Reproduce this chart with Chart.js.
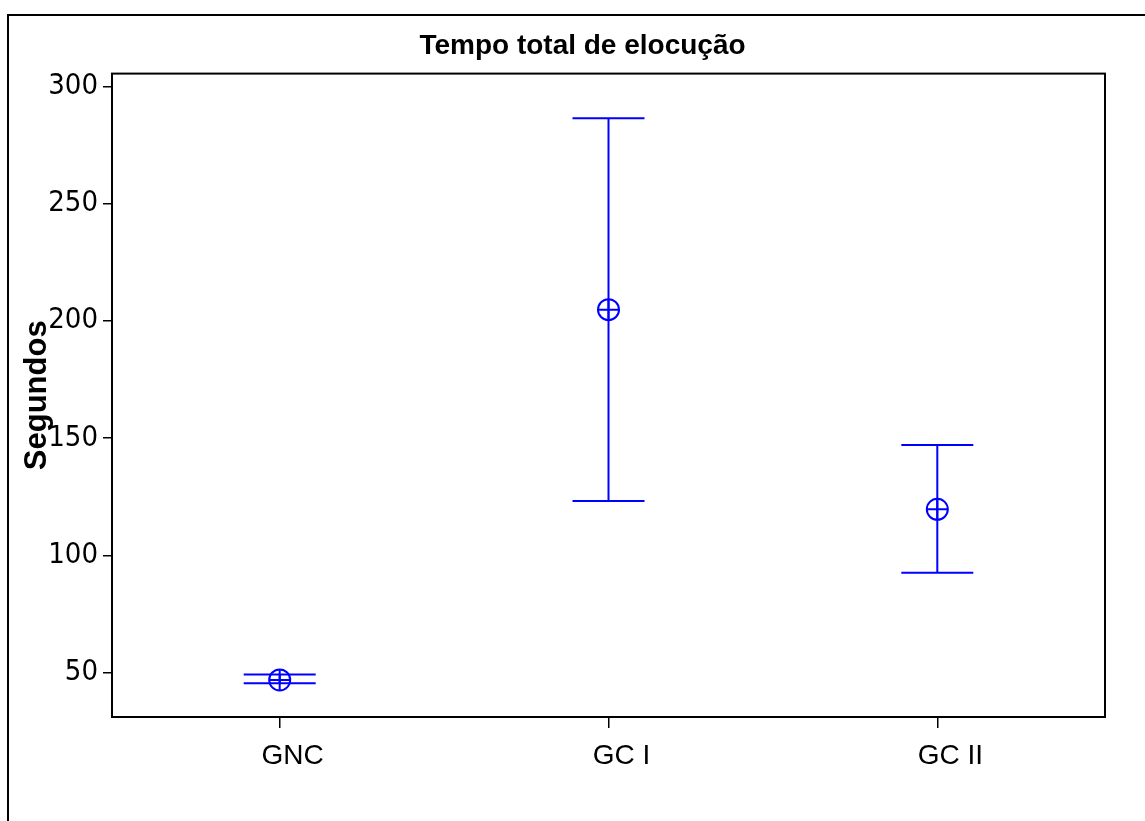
<!DOCTYPE html>
<html><head><meta charset="utf-8">
<script src="https://cdn.jsdelivr.net/npm/chart.js@4"></script>
<style>html,body{margin:0;padding:0;background:#fff}#wrap{width:1145px;height:821px}</style>
</head><body><div id="wrap"><canvas id="c" width="1145" height="821"></canvas></div>
<script>
const groups = ['GNC', 'GC I', 'GC II'];
const means = [46.8, 204.8, 119.6];
const upper = [49.1, 286.5, 147.0];
const lower = [45.4, 123.2, 92.5];
const yTicks = [50, 100, 150, 200, 250, 300];
const xPositions = [0, 1, 2];

const BLUE = '#0000FF';
const tickFont = "'Liberation Sans Narrow', 'Arial Narrow', 'DejaVu Sans Condensed', sans-serif";
const mainFont = "'Liberation Sans', Arial, sans-serif";

const framePlugin = {
  id: 'frame',
  beforeDraw(chart) {
    const ctx = chart.ctx;
    ctx.save();
    ctx.fillStyle = '#fff';
    ctx.fillRect(0, 0, chart.width, chart.height);
    ctx.strokeStyle = '#000';
    ctx.lineWidth = 2;
    ctx.strokeRect(8, 15, chart.width + 20, chart.height + 20);
    ctx.restore();
  },
  afterDraw(chart) {
    const a = chart.chartArea, ctx = chart.ctx;
    ctx.save();
    ctx.strokeStyle = '#000';
    ctx.lineWidth = 2;
    ctx.strokeRect(a.left, a.top, a.right - a.left, a.bottom - a.top);
    ctx.restore();
  }
};

const errorBarPlugin = {
  id: 'errorBars',
  beforeDatasetsDraw(chart) {
    const {ctx, scales: {x, y}} = chart;
    ctx.save();
    ctx.strokeStyle = BLUE;
    ctx.lineWidth = 2;
    xPositions.forEach((xv, i) => {
      const px = x.getPixelForValue(xv);
      const pu = y.getPixelForValue(upper[i]);
      const pl = y.getPixelForValue(lower[i]);
      const cap = 36;
      ctx.beginPath();
      ctx.moveTo(px, pu); ctx.lineTo(px, pl);
      ctx.moveTo(px - cap, pu); ctx.lineTo(px + cap, pu);
      ctx.moveTo(px - cap, pl); ctx.lineTo(px + cap, pl);
      ctx.stroke();
    });
    ctx.restore();
  }
};

const meanPts = xPositions.map((xv, i) => ({x: xv, y: means[i]}));

new Chart(document.getElementById('c'), {
  type: 'scatter',
  data: {
    datasets: [
      { data: meanPts, pointStyle: 'circle', pointRadius: 10.5, pointHoverRadius: 10.5,
        borderColor: BLUE, backgroundColor: 'rgba(0,0,0,0)', pointBorderWidth: 2, borderWidth: 2 },
      { data: meanPts, pointStyle: 'cross', pointRadius: 10.5, pointHoverRadius: 10.5,
        borderColor: BLUE, backgroundColor: BLUE, pointBorderWidth: 2, borderWidth: 2 }
    ]
  },
  options: {
    responsive: false,
    devicePixelRatio: 1,
    animation: false,
    events: [],
    layout: { padding: { left: 20, right: 0, top: 0, bottom: 0 } },
    plugins: {
      legend: { display: false },
      tooltip: { enabled: false },
      title: {
        display: true,
        text: 'Tempo total de elocução',
        color: '#000',
        font: { family: mainFont, size: 28, weight: 'bold', lineHeight: 1.2 },
        padding: { top: 29, bottom: 11 }
      }
    },
    scales: {
      x: {
        type: 'linear',
        min: -0.51, max: 2.51,
        afterBuildTicks: s => { s.ticks = xPositions.map(v => ({value: v})); },
        afterFit: s => { s.height = 104; },
        grid: { display: true, drawOnChartArea: false, drawTicks: true, tickLength: 11, color: '#000', lineWidth: 1.5 },
        border: { display: true, color: '#000', width: 2 },
        ticks: {
          color: '#000', padding: 11, labelOffset: 13, maxRotation: 0, autoSkip: false,
          font: { family: mainFont, size: 28 },
          callback: (v) => groups[v]
        }
      },
      y: {
        type: 'linear',
        min: 31.0, max: 305.5,
        afterBuildTicks: s => { s.ticks = yTicks.map(v => ({value: v})); },
        afterFit: s => { s.width = 92; },
        grid: { display: true, drawOnChartArea: false, drawTicks: true, tickLength: 9, color: '#000', lineWidth: 1.5 },
        border: { display: true, color: '#000', width: 2 },
        ticks: {
          color: '#000', padding: 5,
          font: { family: tickFont, size: 29 }
        },
        title: {
          display: true, text: 'Segundos', color: '#000',
          font: { family: mainFont, size: 31, weight: 'bold', lineHeight: 1.2 },
          padding: { top: -1, bottom: 0 }
        }
      },
      y2: {
        type: 'linear',
        position: 'right',
        display: true,
        afterFit: s => { s.width = 40; },
        grid: { display: false, drawTicks: false },
        border: { display: false },
        ticks: { display: false }
      }
    }
  },
  plugins: [framePlugin, errorBarPlugin]
});
</script>
</body></html>
